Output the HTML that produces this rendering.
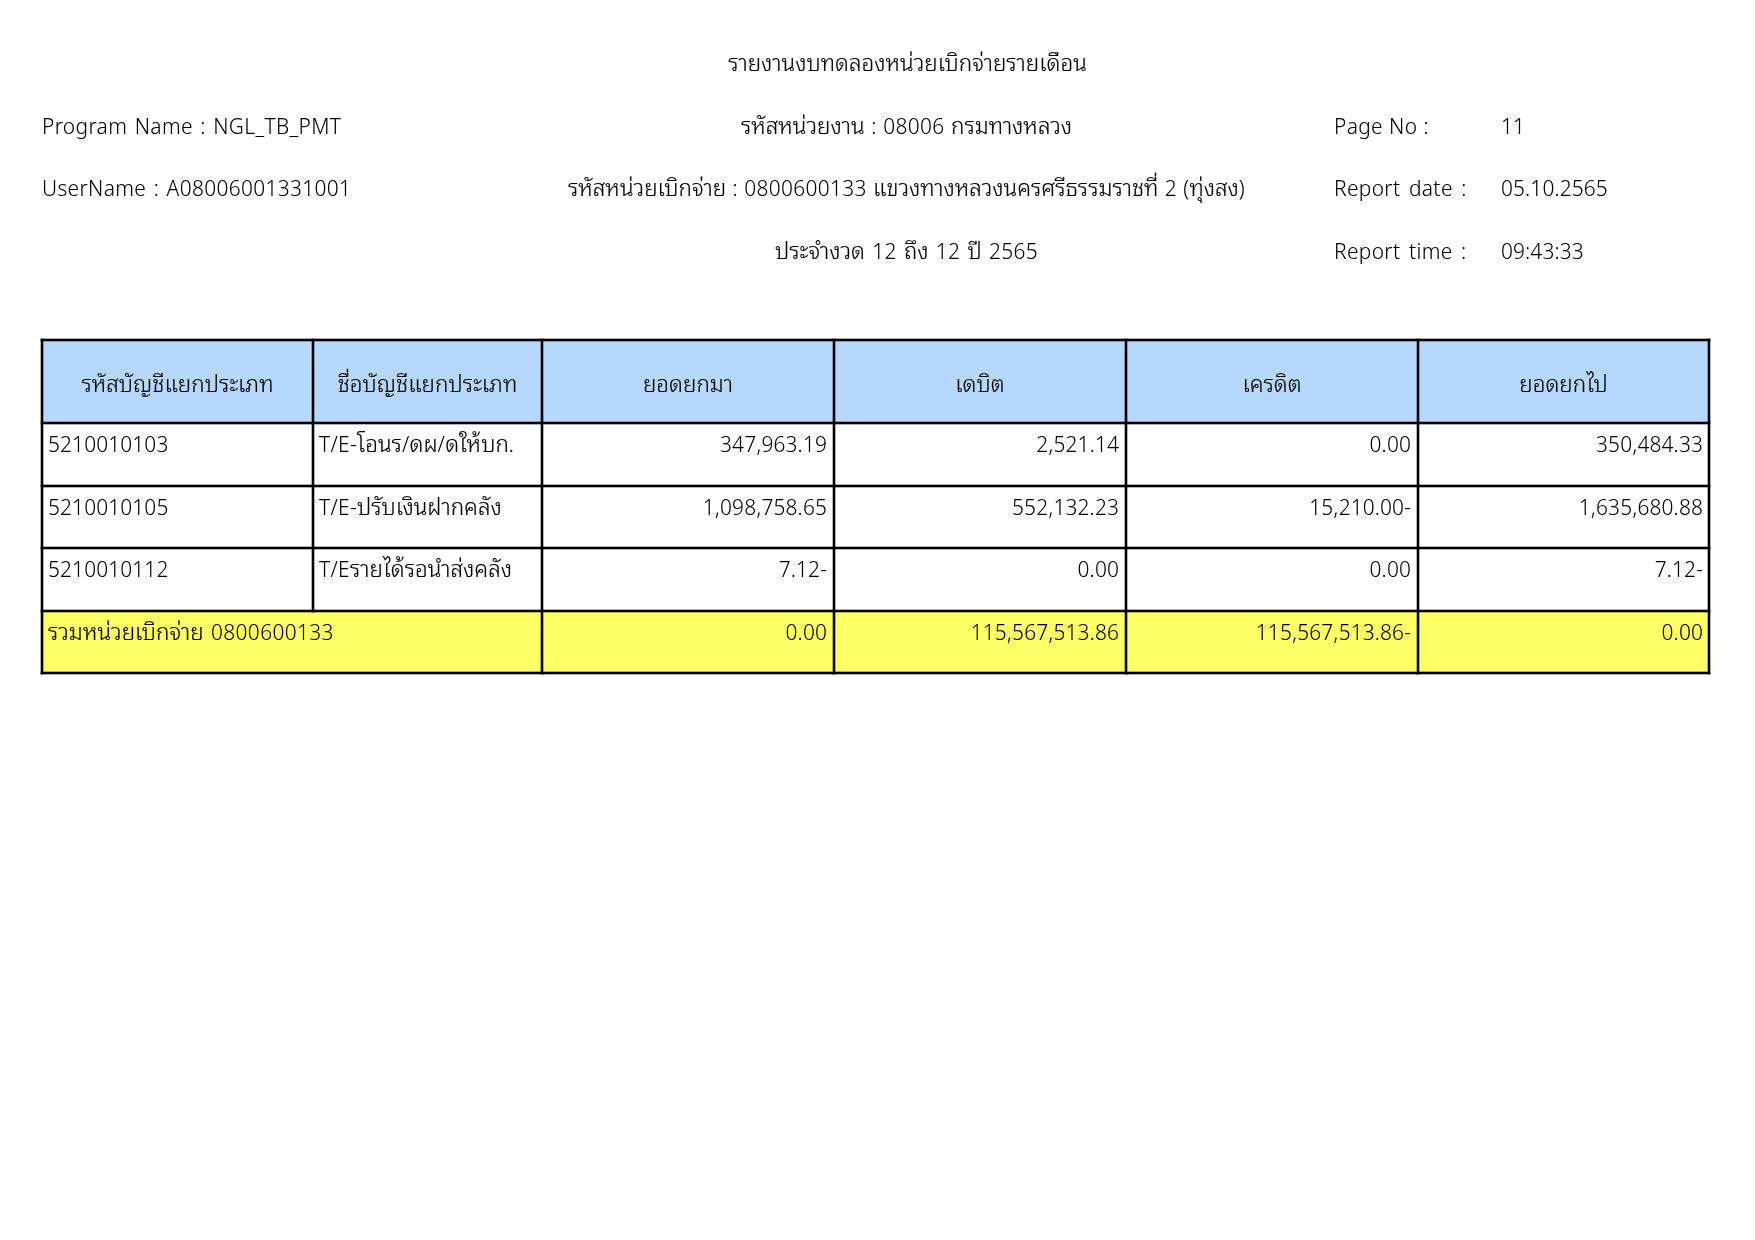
<!DOCTYPE html>
<html lang="th">
<head>
<meta charset="utf-8">
<title>รายงานงบทดลองหน่วยเบิกจ่ายรายเดือน</title>
<style>
html,body{margin:0;padding:0;background:#fff;}
body{width:1755px;height:1240px;position:relative;overflow:hidden;
  font-family:"Noto Sans Display","Noto Sans Thai Looped","Noto Sans Thai","Sarabun","Liberation Sans","Noto Sans CJK SC",sans-serif;
  font-weight:300;font-size:22.2px;letter-spacing:0.34px;word-spacing:1.7px;color:#000;}
.t{will-change:transform;position:absolute;white-space:nowrap;line-height:30px;height:30px;}
.c{text-align:center;}
.r{text-align:right;}
.ln{position:absolute;background:#000;box-shadow:0 0 0 0.5px rgba(0,0,0,0.6);}
.fill{position:absolute;}
.th{font-size:22.5px;letter-spacing:0;-webkit-text-stroke:0.15px #000;}
.n{letter-spacing:0.13px;word-spacing:0;}
</style>
</head>
<body>
<!-- report header -->
<div class="t c" style="left:0;width:1815px;top:48px"><span class="th">รายงานงบทดลองหน่วยเบิกจ่ายรายเดือน</span></div>

<div class="t" style="left:42px;top:110.5px">Program Name : NGL_TB_PMT</div>
<div class="t c" style="left:0;width:1813px;top:110.5px;word-spacing:0.8px"><span class="th">รหัสหน่วยงาน</span> : 08006 <span class="th">กรมทางหลวง</span></div>
<div class="t" style="left:1334px;top:110.5px;word-spacing:0.3px">Page No :</div>
<div class="t n" style="left:1501px;top:110.5px">11</div>

<div class="t" style="left:42px;top:172.5px">UserName : A08006001331001</div>
<div class="t c" style="left:0;width:1813px;top:172.5px;word-spacing:0.5px"><span class="th">รหัสหน่วยเบิกจ่าย</span> : 0800600133 <span class="th">แขวงทางหลวงนครศรีธรรมราชที่</span> 2 (<span class="th">ทุ่งสง</span>)</div>
<div class="t" style="left:1334px;top:172.5px;word-spacing:2.7px">Report date :</div>
<div class="t n" style="left:1501px;top:172.5px">05.10.2565</div>

<div class="t c" style="left:0;width:1813px;top:235.5px;word-spacing:1.5px"><span class="th">ประจำงวด</span> 12 <span class="th">ถึง</span> 12 <span class="th">ปี</span> 2565</div>
<div class="t" style="left:1334px;top:235.5px;word-spacing:2.7px">Report time :</div>
<div class="t n" style="left:1501px;top:235.5px">09:43:33</div>

<!-- table fills -->
<div class="fill" style="left:41px;top:339px;width:1669px;height:84px;background:#B7D8FD"></div>
<div class="fill" style="left:41px;top:610px;width:1669px;height:64px;background:#FFFF66"></div>

<!-- horizontal lines -->
<div class="ln" style="left:41px;top:339px;width:1669px;height:2px"></div>
<div class="ln" style="left:41px;top:422px;width:1669px;height:2px"></div>
<div class="ln" style="left:41px;top:485px;width:1669px;height:2px"></div>
<div class="ln" style="left:41px;top:547px;width:1669px;height:2px"></div>
<div class="ln" style="left:41px;top:610px;width:1669px;height:2px"></div>
<div class="ln" style="left:41px;top:672px;width:1669px;height:2px"></div>
<!-- vertical lines -->
<div class="ln" style="left:41px;top:339px;width:2px;height:335px"></div>
<div class="ln" style="left:312px;top:339px;width:2px;height:273px"></div>
<div class="ln" style="left:541px;top:339px;width:2px;height:335px"></div>
<div class="ln" style="left:833px;top:339px;width:2px;height:335px"></div>
<div class="ln" style="left:1125px;top:339px;width:2px;height:335px"></div>
<div class="ln" style="left:1417px;top:339px;width:2px;height:335px"></div>
<div class="ln" style="left:1708px;top:339px;width:2px;height:335px"></div>

<!-- table header text -->
<div class="t c" style="left:43px;width:269px;top:369px"><span class="th">รหัสบัญชีแยกประเภท</span></div>
<div class="t c" style="left:314px;width:227px;top:369px"><span class="th">ชื่อบัญชีแยกประเภท</span></div>
<div class="t c" style="left:543px;width:290px;top:369px"><span class="th">ยอดยกมา</span></div>
<div class="t c" style="left:835px;width:290px;top:369px"><span class="th">เดบิต</span></div>
<div class="t c" style="left:1127px;width:290px;top:369px"><span class="th">เครดิต</span></div>
<div class="t c" style="left:1419px;width:289px;top:369px"><span class="th">ยอดยกไป</span></div>

<!-- rows -->
<div class="t n" style="left:48px;top:428.5px">5210010103</div>
<div class="t" style="left:319px;top:428.5px">T/E-<span class="th">โอนร</span>/<span class="th">ดผ</span>/<span class="th">ดให้บก</span>.</div>
<div class="t r n" style="left:543px;width:284px;top:428.5px">347,963.19</div>
<div class="t r n" style="left:835px;width:284px;top:428.5px">2,521.14</div>
<div class="t r n" style="left:1127px;width:284px;top:428.5px">0.00</div>
<div class="t r n" style="left:1419px;width:284px;top:428.5px">350,484.33</div>

<div class="t n" style="left:48px;top:491.5px">5210010105</div>
<div class="t" style="left:319px;top:491.5px">T/E-<span class="th">ปรับเงินฝากคลัง</span></div>
<div class="t r n" style="left:543px;width:284px;top:491.5px">1,098,758.65</div>
<div class="t r n" style="left:835px;width:284px;top:491.5px">552,132.23</div>
<div class="t r n" style="left:1127px;width:284px;top:491.5px">15,210.00-</div>
<div class="t r n" style="left:1419px;width:284px;top:491.5px">1,635,680.88</div>

<div class="t n" style="left:48px;top:553.5px">5210010112</div>
<div class="t" style="left:319px;top:553.5px">T/E<span class="th">รายได้รอนำส่งคลัง</span></div>
<div class="t r n" style="left:543px;width:284px;top:553.5px">7.12-</div>
<div class="t r n" style="left:835px;width:284px;top:553.5px">0.00</div>
<div class="t r n" style="left:1127px;width:284px;top:553.5px">0.00</div>
<div class="t r n" style="left:1419px;width:284px;top:553.5px">7.12-</div>

<div class="t" style="left:48px;top:616.5px"><span class="th">รวมหน่วยเบิกจ่าย</span> 0800600133</div>
<div class="t r n" style="left:543px;width:284px;top:616.5px">0.00</div>
<div class="t r n" style="left:835px;width:284px;top:616.5px">115,567,513.86</div>
<div class="t r n" style="left:1127px;width:284px;top:616.5px">115,567,513.86-</div>
<div class="t r n" style="left:1419px;width:284px;top:616.5px">0.00</div>
</body>
</html>
